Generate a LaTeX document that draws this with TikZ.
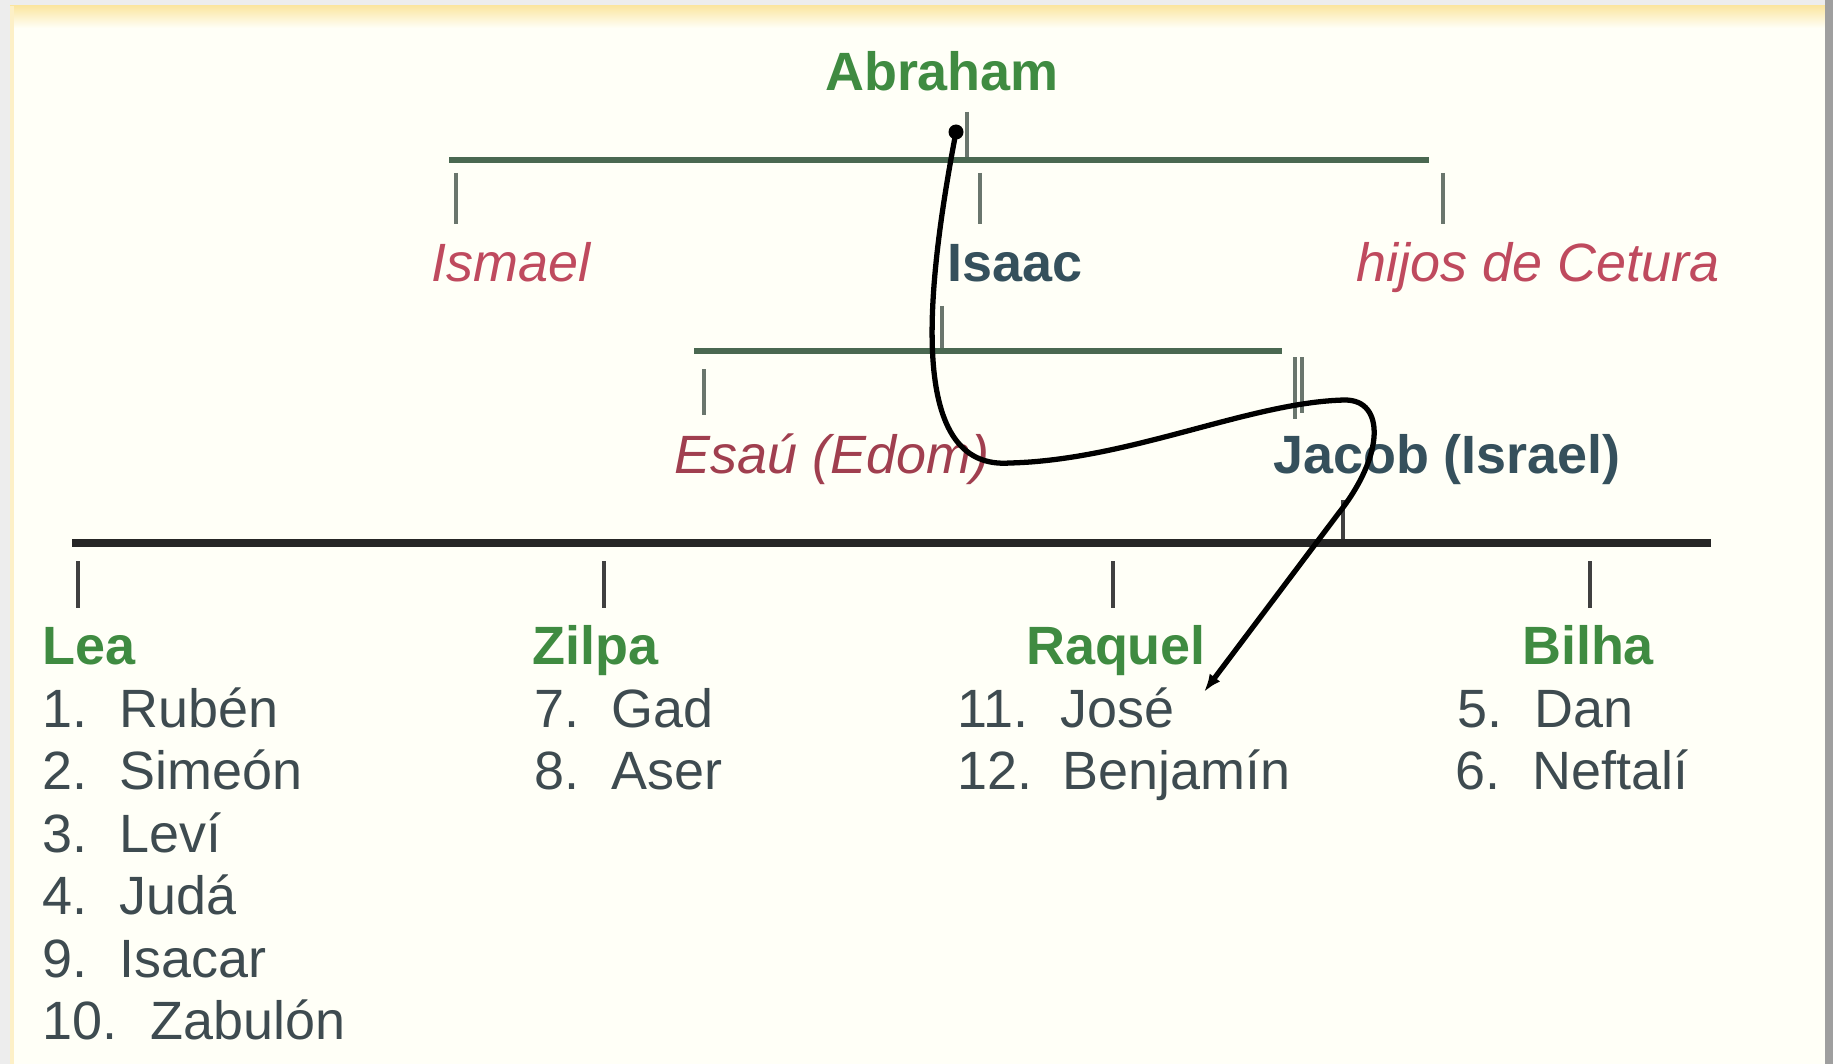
\documentclass[tikz,border=0pt]{standalone}
\usepackage{fontspec}
\setmainfont{Liberation Sans}
\usetikzlibrary{arrows.meta}
\definecolor{verde}{HTML}{3F8B41}
\definecolor{rojo}{HTML}{BF4A5E}
\definecolor{granate}{HTML}{A03F4F}
\definecolor{pizarra}{HTML}{35505C}
\definecolor{gristexto}{HTML}{3E4B50}
\definecolor{ramaverde}{HTML}{4A6851}
\definecolor{crema}{HTML}{FFFFF7}
\definecolor{marco}{HTML}{FBE6A2}
\tikzset{
	texto/.style={inner sep=0pt, font=\fontsize{30.7}{36}\selectfont},
	madre/.style={texto, text=verde, font=\fontsize{30.7}{36}\selectfont\bfseries},
	linaje/.style={texto, anchor=base, text=pizarra, font=\fontsize{30.7}{36}\selectfont\bfseries},
	apartado/.style={texto, anchor=base, text=rojo, font=\fontsize{30.7}{36}\selectfont\itshape},
	hijo/.style={texto, anchor=base west, text=gristexto},
	barra/.style={ramaverde, line width=3.3pt},
	rama/.style={gray!60!ramaverde, line width=2.2pt},
	curva/.style={black, line width=3pt, line cap=round}
}
\begin{document}
\begin{tikzpicture}[x=0.02cm, y=-0.02cm, >={Latex[length=0.36cm,width=0.26cm]}]
	\useasboundingbox (0,0) rectangle (1833,1064);
	\fill[gray!14] (0,0) rectangle (1833,1064);
	\fill[crema] (10,6) rectangle (1825,1064);
	\shade[top color=marco, bottom color=crema] (10,6) rectangle (1825,28);
	\fill[marco!60] (10,6) rectangle (14,1064);
	\fill[gray!75] (1825,0) rectangle (1833,1064);

	\node [madre, anchor=base] (abraham) at (942,91) {Abraham};
	\node [apartado] (ismael) at (511,282) {Ismael};
	\node [linaje] (isaac) at (1015,282) {Isaac};
	\node [apartado] (cetura) at (1538,282) {hijos de Cetura};
	\node [apartado, text=granate] (esau) at (832,473) {Esaú (Edom)};
	\node [linaje] (jacob) at (1447,473) {Jacob (Israel)};

	\coordinate (abr) at (967,112);
	\coordinate (b1l) at (449,160);
	\coordinate (b1r) at (1429,160);
	\draw [rama] (abr) -- (abr |- b1l);
	\draw [barra] (b1l) -- (b1r);
	\draw [rama] (456,173) -- ++(0,51);
	\draw [rama] (980,173) -- ++(0,51);
	\draw [rama] (1443,173) -- ++(0,51);

	\coordinate (isa) at (942,306);
	\coordinate (b2l) at (694,351);
	\coordinate (b2r) at (1282,351);
	\draw [rama] (isa) -- (isa |- b2l);
	\draw [barra] (b2l) -- (b2r);
	\draw [rama] (704,369) -- ++(0,46);
	\draw [rama] (1295,357) -- ++(0,62);
	\draw [rama] (1302,357) -- ++(0,56);

	\coordinate (jac) at (1343,500);
	\coordinate (b3l) at (72,543);
	\coordinate (b3r) at (1711,543);
	\draw [rama, black!75] (jac) -- (jac |- b3l);
	\draw [black!85, line width=4.2pt] (b3l) -- (b3r);
	\draw [rama, black!75] (78,561) -- ++(0,47);
	\draw [rama, black!75] (604,561) -- ++(0,47);
	\draw [rama, black!75] (1113,561) -- ++(0,47);
	\draw [rama, black!75] (1590,561) -- ++(0,47);

	\node [madre, anchor=base west] (lea) at (42,664) {Lea};
	\node [madre, anchor=base west] (zilpa) at (532,664) {Zilpa};
	\node [madre, anchor=base] (raquel) at (1116,664) {Raquel};
	\node [madre, anchor=base] (bilha) at (1588,664) {Bilha};

	\node [hijo] (ruben) at (42,727) {1.\hspace{0.64cm}Rubén};
	\node [hijo] (simeon) at (42,789.5) {2.\hspace{0.64cm}Simeón};
	\node [hijo] (levi) at (42,852) {3.\hspace{0.64cm}Leví};
	\node [hijo] (juda) at (42,914.5) {4.\hspace{0.64cm}Judá};
	\node [hijo] (isacar) at (42,977) {9.\hspace{0.64cm}Isacar};
	\node [hijo] (zabulon) at (42,1039.5) {10.\hspace{0.66cm}Zabulón};
	\node [hijo] (gad) at (534,727) {7.\hspace{0.64cm}Gad};
	\node [hijo] (aser) at (534,789.5) {8.\hspace{0.64cm}Aser};
	\node [hijo] (jose) at (957,727) {11.\hspace{0.64cm}José};
	\node [hijo] (benjamin) at (957,789.5) {12.\hspace{0.6cm}Benjamín};
	\node [hijo] (dan) at (1457,727) {5.\hspace{0.64cm}Dan};
	\node [hijo] (neftali) at (1455,789.5) {6.\hspace{0.64cm}Neftalí};

	\coordinate (punto) at (956,132);
	\coordinate (tip) at (1204,692);
	\fill (punto) circle (7.5);
	\draw [curva, ->] (punto) .. controls (920,320) and (915,470) .. (1010,463)
		.. controls (1130,460) and (1250,402) .. (1345,400)
		.. controls (1385,400) and (1385,455) .. (1338,514) -- (tip);
\end{tikzpicture}
\end{document}
